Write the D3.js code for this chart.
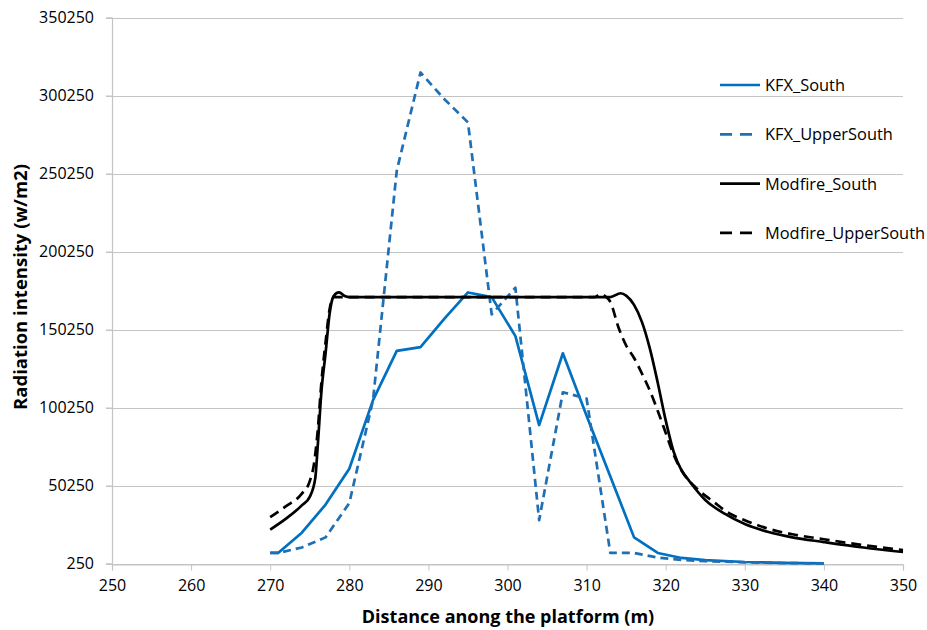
<!DOCTYPE html>
<html>
<head>
<meta charset="utf-8">
<script src="https://cdn.jsdelivr.net/npm/d3@7"></script>
<style>
  body { margin: 0; background: #fff; }
  text { font-family: "Open Sans", "Liberation Sans", sans-serif; fill: #000; }
</style>
</head>
<body>
<div id="chart"></div>
<script>
// values
const xTicks = [250, 260, 270, 280, 290, 300, 310, 320, 330, 340, 350];
const yTicks = [250, 50250, 100250, 150250, 200250, 250250, 300250, 350250];

const kfxSouthX = [270, 271, 274, 277, 280, 283, 286, 289, 292, 295, 298, 301, 304, 307, 310, 313, 316, 319, 322, 325, 330, 335, 340];
const kfxSouthY = [7000, 7000, 20000, 38000, 61000, 105000, 136500, 139000, 157000, 174000, 171000, 146000, 89000, 135000, 95000, 56000, 17000, 7000, 3800, 2400, 1200, 600, 300];

const kfxUpperX = [270, 271, 274, 277, 280, 283, 286, 289, 292, 295, 298, 301, 304, 307, 310, 313, 316, 319, 322, 325, 330, 335, 340];
const kfxUpperY = [7000, 7000, 10500, 17000, 39000, 105000, 252000, 315000, 298000, 283000, 160000, 177000, 28000, 110000, 106000, 7000, 7000, 4000, 2500, 1800, 1000, 500, 300];

const modSouthX = [270, 272, 274, 275, 275.7, 276, 276.5, 277, 277.5, 278, 278.7, 279.5, 280, 290, 300, 310, 313, 314.3, 315, 316, 317, 318, 319, 320, 321, 322, 323, 325, 327.5, 330, 333, 336, 340, 345, 350];
const modSouthY = [22000, 29000, 37500, 43000, 55000, 75000, 112000, 135000, 160000, 171500, 174000, 171500, 171000, 171000, 171000, 171000, 171000, 173500, 172000, 166000, 155000, 138000, 116000, 92000, 72000, 60000, 53000, 41000, 32000, 25500, 20400, 17000, 14000, 10500, 7600];

const modUpperX = [270, 272, 274, 275, 275.5, 276, 276.5, 277, 277.5, 278, 280, 290, 300, 311, 311.8, 312.5, 313, 314, 315, 316, 317, 318, 319, 320, 321, 322, 324, 326, 328, 330, 333, 336, 340, 345, 350];
const modUpperY = [30000, 37000, 45000, 53000, 63000, 85000, 118000, 142000, 163000, 171000, 171000, 171000, 171000, 171000, 173000, 171000, 168000, 152000, 140000, 132000, 122000, 111000, 98000, 84000, 70000, 60000, 48000, 40000, 32500, 28000, 22500, 19000, 15800, 12000, 8900];

const seriesNames = ["KFX_South", "KFX_UpperSouth", "Modfire_South", "Modfire_UpperSouth"];
const seriesColors = ["#0070c0", "#1f6fb5", "#000000", "#000000"];
const seriesDash = [null, "8,5", null, "10,6"];

const series = [
  { name: seriesNames[0], xs: kfxSouthX, ys: kfxSouthY, smooth: false },
  { name: seriesNames[1], xs: kfxUpperX, ys: kfxUpperY, smooth: false },
  { name: seriesNames[2], xs: modSouthX, ys: modSouthY, smooth: true },
  { name: seriesNames[3], xs: modUpperX, ys: modUpperY, smooth: true }
];

const W = 927, H = 630;
const plotLeft = 112, plotRight = 903, plotTop = 17.5, plotBottom = 563.5;

const svg = d3.select("#chart").append("svg")
  .attr("width", W)
  .attr("height", H);

const x = d3.scaleLinear().domain([250, 350]).range([plotLeft, plotRight]);
const y = d3.scaleLinear().domain([250, 350250]).range([plotBottom, plotTop]);

// horizontal gridlines
svg.append("g")
  .selectAll("line")
  .data(yTicks)
  .enter().append("line")
  .attr("x1", plotLeft - 6)
  .attr("x2", plotRight)
  .attr("y1", d => Math.round(y(d)) + 0.5)
  .attr("y2", d => Math.round(y(d)) + 0.5)
  .attr("stroke", "#c4c4c4")
  .attr("stroke-width", 1.2);

// y axis
const yAxis = svg.append("g")
  .attr("transform", `translate(${plotLeft},0)`)
  .call(d3.axisLeft(y).tickValues(yTicks).tickFormat(d3.format("d")).tickSize(6).tickPadding(12));
yAxis.select(".domain").attr("stroke", "#c4c4c4").attr("stroke-width", 1.2);
yAxis.selectAll(".tick line").attr("stroke", "#c4c4c4");
yAxis.selectAll(".tick text").style("font-size", "16px").style("font-family", "'Open Sans', sans-serif").attr("fill", "#222");

// x axis
const xAxis = svg.append("g")
  .attr("transform", `translate(0,${Math.round(plotBottom) + 0.5})`)
  .call(d3.axisBottom(x).tickValues(xTicks).tickFormat(d3.format("d")).tickSize(6).tickPadding(9));
xAxis.select(".domain").attr("stroke", "#c4c4c4").attr("stroke-width", 1.2);
xAxis.selectAll(".tick line").attr("stroke", "#c4c4c4");
xAxis.selectAll(".tick text").style("font-size", "16px").style("font-family", "'Open Sans', sans-serif").attr("fill", "#222");

// lines
const linear = d3.line().x(d => x(d[0])).y(d => y(d[1]));
const smooth = d3.line().x(d => x(d[0])).y(d => y(d[1])).curve(d3.curveMonotoneX);

series.forEach((s, i) => {
  const pts = s.xs.map((v, k) => [v, s.ys[k]]);
  svg.append("path")
    .datum(pts)
    .attr("d", s.smooth ? smooth : linear)
    .attr("fill", "none")
    .attr("stroke", seriesColors[i])
    .attr("stroke-width", 2.7)
    .attr("stroke-linejoin", "round")
    .attr("stroke-dasharray", seriesDash[i]);
});

// legend
const legend = svg.append("g");
seriesNames.forEach((n, i) => {
  const ly = 85 + i * 49.3;
  legend.append("line")
    .attr("x1", 720).attr("x2", 760)
    .attr("y1", ly).attr("y2", ly)
    .attr("stroke", seriesColors[i])
    .attr("stroke-width", 2.7)
    .attr("stroke-dasharray", seriesDash[i] ? "12,8" : null);
  legend.append("text")
    .attr("x", 765)
    .attr("y", ly + 6)
    .style("font-size", "16.4px")
    .attr("fill", "#222")
    .text(n);
});

// axis titles
svg.append("text")
  .attr("x", 508)
  .attr("y", 623)
  .attr("text-anchor", "middle")
  .style("font-size", "18px")
  .style("font-weight", "bold")
  .text("Distance anong the platform (m)");

svg.append("text")
  .attr("transform", "translate(27,287) rotate(-90)")
  .attr("text-anchor", "middle")
  .style("font-size", "18.5px")
  .style("font-weight", "bold")
  .text("Radiation intensity (w/m2)");
</script>
</body>
</html>
